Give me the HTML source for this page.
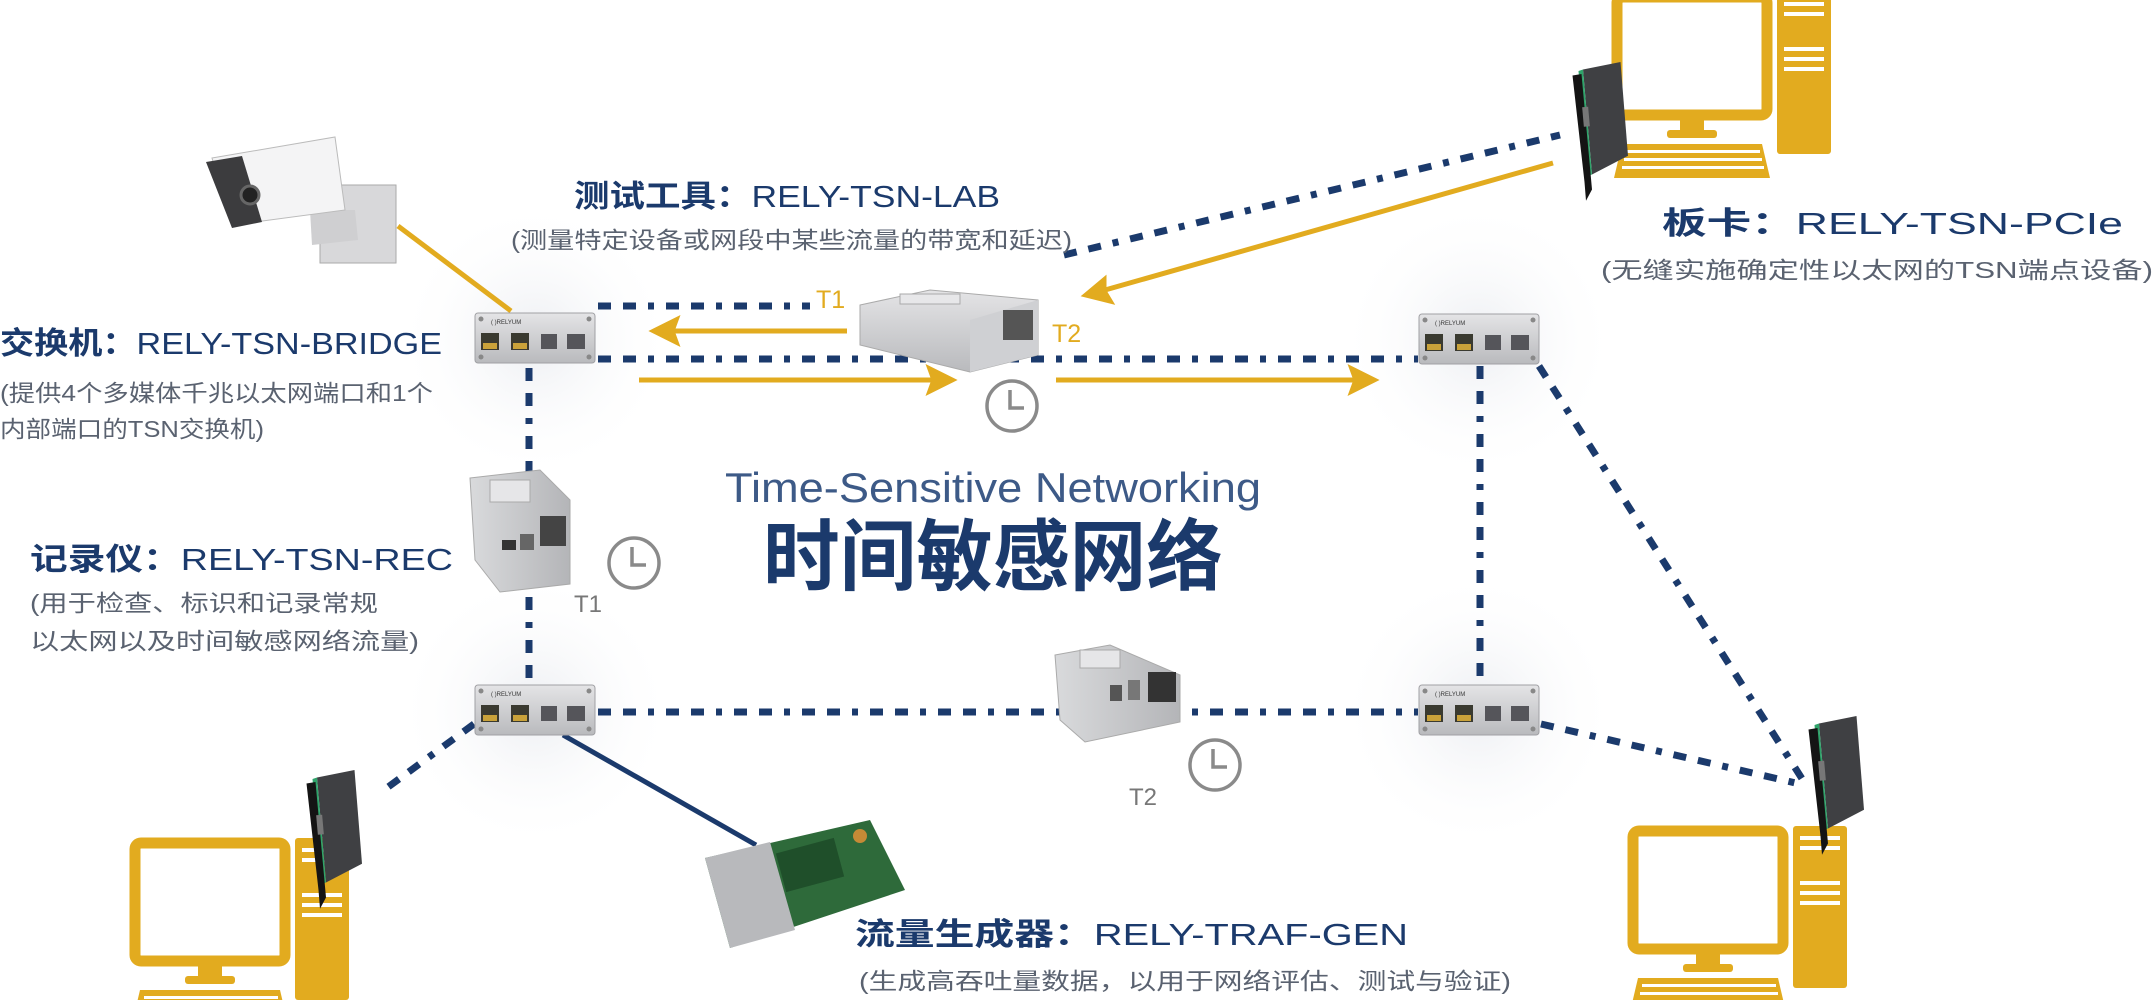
<!DOCTYPE html>
<html><head><meta charset="utf-8"><style>
html,body{margin:0;padding:0;background:#fff}
svg{display:block}
text{font-family:"Liberation Sans","Noto Sans CJK SC",sans-serif}
</style></head><body>
<svg width="2155" height="1000" viewBox="0 0 2155 1000" xmlns="http://www.w3.org/2000/svg">
<defs>
<linearGradient id="alu" x1="0" y1="0" x2="0" y2="1"><stop offset="0" stop-color="#e4e4e6"/><stop offset="1" stop-color="#b9babd"/></linearGradient>
<linearGradient id="alu2" x1="0" y1="0" x2="1" y2="0"><stop offset="0" stop-color="#d9dadc"/><stop offset="1" stop-color="#b4b5b8"/></linearGradient>
<radialGradient id="halo"><stop offset="0" stop-color="#eceef2"/><stop offset="1" stop-color="#fff" stop-opacity="0"/></radialGradient>
<g id="sw">
<rect x="0" y="0" width="120" height="50" rx="3" fill="url(#alu)" stroke="#a0a0a4"/>
<circle cx="6" cy="6" r="2.5" fill="#888"/><circle cx="114" cy="6" r="2.5" fill="#888"/><circle cx="6" cy="44" r="2.5" fill="#888"/><circle cx="114" cy="44" r="2.5" fill="#888"/>
<text x="16" y="11" font-size="6" fill="#333">( )RELYUM</text>
<rect x="6" y="20" width="18" height="17" fill="#3a3a30"/><rect x="8" y="30" width="14" height="6" fill="#c9a23a"/>
<rect x="36" y="20" width="18" height="17" fill="#3a3a30"/><rect x="38" y="30" width="14" height="6" fill="#c9a23a"/>
<rect x="66" y="21" width="16" height="15" fill="#55555a"/>
<rect x="92" y="21" width="18" height="15" fill="#55555a"/>
</g>
<g id="pc">
<rect x="5" y="5" width="150" height="118" rx="6" fill="#fff" stroke="#e2ab1f" stroke-width="11"/>
<rect x="68" y="128" width="24" height="12" fill="#e2ab1f"/><rect x="55" y="138" width="50" height="8" rx="3" fill="#e2ab1f"/>
<path d="M10 152 L150 152 L158 186 L2 186 Z" fill="#e2ab1f"/>
<g fill="#fff"><rect x="14" y="158" width="134" height="3"/><rect x="12" y="166" width="138" height="3"/><rect x="10" y="174" width="142" height="3"/></g>
<rect x="165" y="0" width="54" height="162" rx="3" fill="#e2ab1f"/>
<g fill="#fff"><rect x="172" y="10" width="40" height="4"/><rect x="172" y="20" width="40" height="4"/><rect x="172" y="55" width="40" height="4"/><rect x="172" y="65" width="40" height="4"/><rect x="172" y="75" width="40" height="4"/></g>
</g>
<g id="card">
<path d="M28 10 L78 0 L88 125 L40 150 Z" fill="#3f4043"/>
<path d="M22 12 L28 10 L40 150 L34 152 Z" fill="#2fa36a"/>
<path d="M14 18 L26 16 L40 170 L32 185 L30 160 Z" fill="#141414"/>
<rect x="28" y="60" width="8" height="26" fill="#777" transform="rotate(-5 32 73)"/>
</g>
</defs>

<circle cx="535" cy="340" r="140" fill="url(#halo)"/>
<circle cx="535" cy="710" r="140" fill="url(#halo)"/>
<circle cx="1478" cy="340" r="140" fill="url(#halo)"/>
<circle cx="1478" cy="710" r="140" fill="url(#halo)"/>

<g fill="none" stroke="#1b3a6c" stroke-width="7" stroke-dasharray="13 12 13 12 6 12">
<line x1="598" y1="306" x2="810" y2="306"/>
<line x1="598" y1="359" x2="1418" y2="359"/>
<line x1="529" y1="368" x2="529" y2="684"/>
<line x1="1480" y1="366" x2="1480" y2="683"/>
<line x1="598" y1="712" x2="1418" y2="712"/>
<line x1="1064" y1="255" x2="1560" y2="135"/>
<line x1="1539" y1="366" x2="1806" y2="785"/>
<line x1="1541" y1="724" x2="1800" y2="784"/>
<line x1="474" y1="724" x2="384" y2="790"/>
</g>
<line x1="563" y1="735" x2="756" y2="845" stroke="#1b3a6c" stroke-width="5"/>
<line x1="398" y1="226" x2="511" y2="311" stroke="#e2ab1f" stroke-width="5"/>
<g stroke="#e2ab1f" stroke-width="5" fill="#e2ab1f">
<line x1="847" y1="331" x2="665" y2="331"/><path d="M654 331 L676 320 L672 331 L676 342 Z"/>
<line x1="639" y1="380" x2="940" y2="380"/><path d="M952 380 L930 369 L934 380 L930 391 Z"/>
<line x1="1056" y1="380" x2="1362" y2="380"/><path d="M1374 380 L1352 369 L1356 380 L1352 391 Z"/>
<line x1="1553" y1="163" x2="1098" y2="292"/><path d="M1086 295 L1104 280 L1104 291 L1110 301 Z"/>
</g>

<g>
<rect x="320" y="185" width="76" height="78" fill="#d8d8da" stroke="#aaa"/>
<path d="M310 210 L355 210 L358 240 L312 245 Z" fill="#cfcfd1"/>
<path d="M212 158 L335 137 L345 210 L232 225 Z" fill="#f4f4f5" stroke="#bbb"/>
<path d="M206 162 L242 156 L262 222 L232 228 Z" fill="#3c3c3e"/>
<circle cx="250" cy="195" r="9" fill="#222" stroke="#666" stroke-width="3"/>
</g>

<g>
<path d="M860 305 L930 290 L1038 300 L1038 355 L970 372 L860 345 Z" fill="url(#alu)" stroke="#aaa"/>
<path d="M970 320 L1038 300 L1038 355 L970 372 Z" fill="#cfd0d3"/>
<rect x="1003" y="310" width="30" height="30" fill="#555"/>
<rect x="900" y="294" width="60" height="10" fill="#e7e7e9" stroke="#aaa"/>
</g>
<g>
<path d="M470 478 L540 470 L570 500 L570 584 L500 592 L475 560 Z" fill="url(#alu2)" stroke="#aaa"/>
<rect x="490" y="480" width="40" height="22" fill="#e6e6e8" stroke="#aaa"/>
<rect x="540" y="516" width="26" height="30" fill="#444"/>
<rect x="502" y="540" width="14" height="10" fill="#333"/><rect x="520" y="534" width="14" height="16" fill="#666"/>
</g>
<g>
<path d="M1055 655 L1110 645 L1180 675 L1180 722 L1085 742 L1060 720 Z" fill="url(#alu2)" stroke="#aaa"/>
<rect x="1080" y="650" width="40" height="18" fill="#e6e6e8" stroke="#aaa"/>
<rect x="1148" y="672" width="28" height="30" fill="#333"/>
<rect x="1110" y="685" width="12" height="16" fill="#555"/><rect x="1128" y="680" width="12" height="20" fill="#777"/>
</g>
<g>
<path d="M705 858 L870 820 L905 890 L730 948 Z" fill="#2e6a3a"/>
<path d="M705 858 L770 842 L795 930 L730 948 Z" fill="#b8b9bc"/>
<rect x="780" y="845" width="60" height="40" fill="#1f4f2a" transform="rotate(-15 810 865)"/>
<circle cx="860" cy="836" r="7" fill="#c58a36"/>
</g>

<use href="#sw" x="475" y="313"/>
<use href="#sw" x="1419" y="314"/>
<use href="#sw" x="475" y="685"/>
<use href="#sw" x="1419" y="685"/>

<use href="#pc" x="1612" y="-8"/>
<use href="#card" transform="translate(1562 62) scale(0.75)"/>
<use href="#pc" x="130" y="838"/>
<use href="#card" transform="translate(296 770) scale(0.75)"/>
<use href="#pc" x="1628" y="826"/>
<use href="#card" transform="translate(1798 716) scale(0.75)"/>

<g fill="none" stroke="#8a8a8a" stroke-width="3.5">
<circle cx="1012" cy="406" r="25"/><path d="M1010 390 V408 H1024"/>
<circle cx="634" cy="563" r="25"/><path d="M632 547 V565 H646"/>
<circle cx="1215" cy="765" r="25"/><path d="M1213 749 V767 H1227"/>
</g>

<g fill="#e2ab1f" font-size="25"><text x="816" y="308">T1</text><text x="1052" y="342">T2</text></g>
<g fill="#777" font-size="24"><text x="574" y="612">T1</text><text x="1129" y="805">T2</text></g>

<g fill="#1b3a6c" font-size="31">
<text x="574" y="207" textLength="426" lengthAdjust="spacingAndGlyphs"><tspan font-weight="bold">测试工具：</tspan>RELY-TSN-LAB</text>
<text x="0" y="354" textLength="442" lengthAdjust="spacingAndGlyphs"><tspan font-weight="bold">交换机：</tspan>RELY-TSN-BRIDGE</text>
<text x="30" y="570" textLength="423" lengthAdjust="spacingAndGlyphs"><tspan font-weight="bold">记录仪：</tspan>RELY-TSN-REC</text>
<text x="1662" y="234" textLength="461" lengthAdjust="spacingAndGlyphs"><tspan font-weight="bold">板卡：</tspan>RELY-TSN-PCIe</text>
<text x="855" y="945" textLength="553" lengthAdjust="spacingAndGlyphs"><tspan font-weight="bold">流量生成器：</tspan>RELY-TRAF-GEN</text>
</g>
<g fill="#5a6270" font-size="23">
<text x="511" y="248" textLength="561" lengthAdjust="spacingAndGlyphs">(测量特定设备或网段中某些流量的带宽和延迟)</text>
<text x="0" y="401" textLength="433" lengthAdjust="spacingAndGlyphs">(提供4个多媒体千兆以太网端口和1个</text>
<text x="0" y="437" textLength="264" lengthAdjust="spacingAndGlyphs">内部端口的TSN交换机)</text>
<text x="30" y="611" textLength="348" lengthAdjust="spacingAndGlyphs">(用于检查、标识和记录常规</text>
<text x="30" y="649" textLength="389" lengthAdjust="spacingAndGlyphs">以太网以及时间敏感网络流量)</text>
<text x="1601" y="278" textLength="552" lengthAdjust="spacingAndGlyphs">(无缝实施确定性以太网的TSN端点设备)</text>
<text x="859" y="989" textLength="652" lengthAdjust="spacingAndGlyphs">(生成高吞吐量数据，以用于网络评估、测试与验证)</text>
</g>
<text x="725" y="502" fill="#3d5a87" font-size="42" textLength="536" lengthAdjust="spacingAndGlyphs">Time-Sensitive Networking</text>
<text x="763" y="584" fill="#1b3a6c" font-size="78" font-weight="bold" textLength="460" lengthAdjust="spacingAndGlyphs">时间敏感网络</text>
</svg>
</body></html>
